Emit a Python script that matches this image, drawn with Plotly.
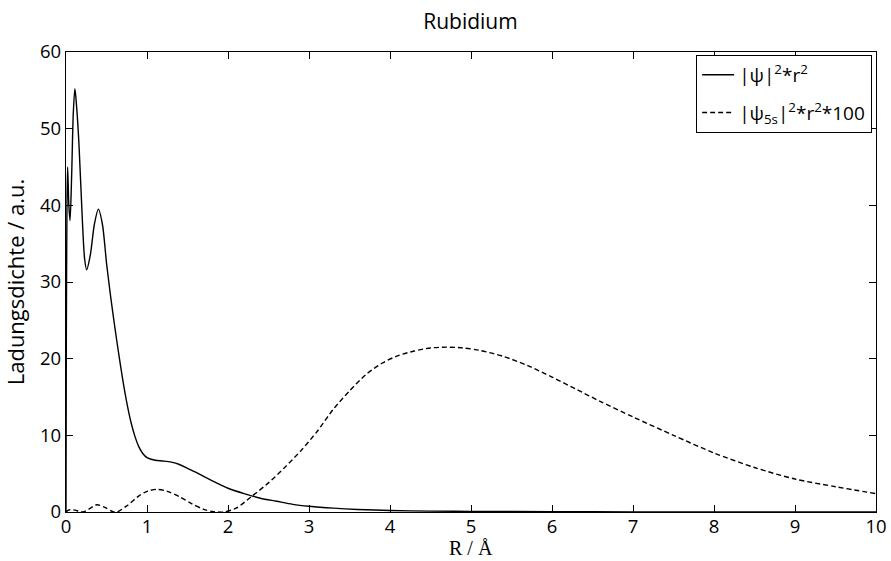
import plotly.graph_objects as go

# Radial charge density of rubidium: total density and the 5s orbital (scaled x100)
r_total = [0, 0.004, 0.012, 0.02, 0.035, 0.05, 0.07, 0.09, 0.11, 0.13, 0.16, 0.2, 0.23,
           0.255, 0.3, 0.35, 0.4, 0.45, 0.5, 0.55, 0.6, 0.65, 0.7, 0.75, 0.8, 0.85, 0.9,
           0.95, 1.0, 1.1, 1.2, 1.3, 1.4, 1.5, 1.6, 1.8, 2.0, 2.2, 2.4, 2.6, 2.8, 3.0,
           3.3, 3.6, 4.0, 4.5, 5.0, 6.0, 7.0, 8.0, 9.0, 10.0]
rho_total = [0, 22, 40, 45, 40, 38, 44, 52, 55.2, 53, 48, 38.5, 33,
             31.6, 33.5, 37.5, 39.5, 37.5, 32.5, 28.2, 24.3, 20.7, 17.3, 14.3, 11.8, 9.9, 8.5,
             7.6, 7.1, 6.75, 6.65, 6.5, 6.2, 5.7, 5.2, 4.1, 3.1, 2.4, 1.8, 1.4, 1.0, 0.75,
             0.5, 0.33, 0.2, 0.12, 0.08, 0.04, 0.02, 0.01, 0.0, 0.0]

r_5s = [0, 0.03, 0.07, 0.11, 0.16, 0.21, 0.28, 0.38, 0.48, 0.58, 0.63, 0.75, 0.9, 1.0,
        1.12, 1.25, 1.4, 1.55, 1.7, 1.82, 1.95, 2.1, 2.3, 2.5, 2.7, 2.9, 3.1, 3.3, 3.5,
        3.7, 3.9, 4.1, 4.3, 4.5, 4.7, 4.9, 5.1, 5.4, 5.7, 6.0, 6.3, 6.6, 7.0, 7.5, 8.0,
        8.5, 9.0, 9.5, 10.0]
rho_5s = [0, 0.25, 0.3, 0.25, 0.1, 0.0, 0.35, 0.95, 0.6, 0.05, 0.0, 0.8, 2.1, 2.7,
          2.95, 2.7, 2.0, 1.1, 0.35, 0.05, 0.0, 0.5, 2.1, 3.8, 5.8, 8.0, 10.5, 13.4, 15.8,
          17.9, 19.4, 20.4, 21.0, 21.4, 21.5, 21.4, 21.1, 20.3, 19.1, 17.6, 16.0, 14.4, 12.4, 10.0, 7.7,
          5.8, 4.3, 3.3, 2.4]

x_ticks = list(range(0, 11))
y_ticks = [0, 10, 20, 30, 40, 50, 60]

SANS = "Open Sans, Liberation Sans, sans-serif"
SERIF = "Liberation Serif, DejaVu Serif, serif"

fig = go.Figure()
fig.add_trace(go.Scatter(
    x=r_total, y=rho_total, mode="lines", legendgroup="a",
    line=dict(color="black", width=1.4, shape="spline", smoothing=0.8),
    name="|\u03c8|<sup>2</sup>*r<sup>2</sup>",
))
fig.add_trace(go.Scatter(
    x=r_5s, y=rho_5s, mode="lines", legendgroup="b",
    line=dict(color="black", width=1.4, dash="5px,3px", shape="spline", smoothing=0.8),
    name="|\u03c8<sub>5s</sub>|<sup>2</sup>*r<sup>2</sup>*100",
))

axis_common = dict(
    showgrid=False, zeroline=False, showline=True, linecolor="black", linewidth=1.4,
    mirror="ticks", ticks="inside", ticklen=7, tickwidth=1.2, tickcolor="black",
    automargin=False,
    tickfont=dict(family=SANS, size=18.5, color="black"),
)

fig.update_layout(
    width=891, height=561,
    margin=dict(l=66, r=15, t=52, b=49),
    paper_bgcolor="white", plot_bgcolor="white",
    title=dict(text="Rubidium", x=0.528, xanchor="center", y=0.962, yanchor="middle",
               font=dict(family=SANS, size=21, color="black")),
    xaxis=dict(range=[0, 10], tickvals=x_ticks, ticklabelstandoff=-2, **axis_common),
    yaxis=dict(range=[0, 60], tickvals=y_ticks,
               title=dict(text="Ladungsdichte / a.u.", standoff=12,
                          font=dict(family=SANS, size=22, color="black")),
               **axis_common),
    legend=dict(x=0.995, y=0.994, xanchor="right", yanchor="top",
                bgcolor="white", bordercolor="black", borderwidth=1.2,
                font=dict(family=SANS, size=19, color="black"),
                tracegroupgap=10, itemwidth=32),
    showlegend=True,
)

# x-axis label placed just below the tick labels
fig.add_annotation(
    text="R / \u00c5", xref="paper", yref="paper", x=0.5, y=-0.1035,
    xanchor="center", yanchor="bottom", showarrow=False, borderpad=0,
    font=dict(family=SERIF, size=20, color="black"),
)

fig.write_html("out.html")
